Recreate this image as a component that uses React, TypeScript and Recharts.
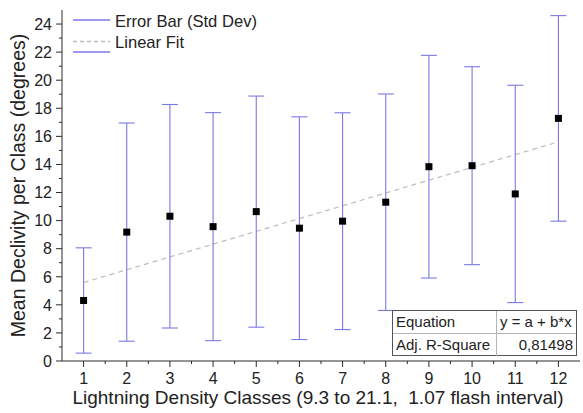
import React from 'react';
import { ComposedChart, Scatter, Line, XAxis, YAxis, ErrorBar, Label } from 'recharts';

// ---- data ----
const classes = [1, 2, 3, 4, 5, 6, 7, 8, 9, 10, 11, 12];
const meanDeclivity = [4.31, 9.18, 10.31, 9.57, 10.64, 9.46, 9.96, 11.31, 13.84, 13.91, 11.9, 17.28];
const stdDev = [3.75, 7.77, 7.96, 8.12, 8.23, 7.93, 7.72, 7.71, 7.93, 7.05, 7.74, 7.32];
const fitX = [1, 12];
const fitY = [5.59, 15.61];
const xMajorTicks = [1, 2, 3, 4, 5, 6, 7, 8, 9, 10, 11, 12];
const xMinorTicks = [1.5, 2.5, 3.5, 4.5, 5.5, 6.5, 7.5, 8.5, 9.5, 10.5, 11.5];
const yMajorTicks = [0, 2, 4, 6, 8, 10, 12, 14, 16, 18, 20, 22, 24];
const yMinorTicks = [1, 3, 5, 7, 9, 11, 13, 15, 17, 19, 21, 23];
const tableRows = [
  ['Equation', 'y = a + b*x'],
  ['Adj. R-Square', '0,81498'],
];
const legendLabels = ['Error Bar (Std Dev)', 'Linear Fit'];

const points = classes.map((c, i) => ({ x: c, y: meanDeclivity[i], err: stdDev[i] }));
const fitData = fitX.map((x, i) => ({ x, fit: fitY[i] }));

const FONT = '"Liberation Sans", Arial, sans-serif';
const AXIS = '#2a2a2a';
const ERR = '#7a78e4';
const FIT = '#bcbcbc';

const isMajorX = (v: number) => xMajorTicks.includes(v);
const isMajorY = (v: number) => yMajorTicks.includes(v);

const YTick = (props: any) => {
  const { x, y, payload } = props;
  const axisX = x + 9;
  const v = payload.value;
  const major = isMajorY(v);
  return (
    <g>
      <line x1={axisX} x2={axisX - (major ? 6 : 3)} y1={y} y2={y} stroke={AXIS} />
      {major && (
        <text x={axisX - 10} y={y} dy="0.36em" textAnchor="end" fontSize={16} fill="#222" fontFamily={FONT}>
          {v}
        </text>
      )}
    </g>
  );
};

const XTick = (props: any) => {
  const { x, y, payload } = props;
  const axisY = y - 9;
  const v = payload.value;
  const major = isMajorX(v);
  return (
    <g>
      <line x1={x} x2={x} y1={axisY} y2={axisY + (major ? 6 : 3)} stroke={AXIS} />
      {major && (
        <text x={x} y={axisY + 23} textAnchor="middle" fontSize={16} fill="#222" fontFamily={FONT}>
          {v}
        </text>
      )}
    </g>
  );
};

const YTitle = (props: any) => {
  const { viewBox } = props;
  const cx = viewBox.x + viewBox.width - 44;
  const cy = viewBox.y + viewBox.height / 2;
  return (
    <text
      x={cx}
      y={cy}
      transform={`rotate(-90 ${cx} ${cy})`}
      textAnchor="middle"
      dominantBaseline="central"
      fontSize={19.5}
      fill="#222"
      fontFamily={FONT}
    >
      Mean Declivity per Class (degrees)
    </text>
  );
};

const XTitle = (props: any) => {
  const { viewBox } = props;
  const cx = viewBox.x + viewBox.width / 2 - 3;
  const by = viewBox.y + 43;
  return (
    <text x={cx} y={by} textAnchor="middle" fontSize={19} fill="#222" fontFamily={FONT} style={{ whiteSpace: 'pre' }}>
      {'Lightning Density Classes (9.3 to 21.1,  1.07 flash interval)'}
    </text>
  );
};

const Square = (props: any) => {
  const { cx, cy } = props;
  return <rect x={cx - 3.5} y={cy - 3.5} width={7} height={7} fill="#000" />;
};

export default function App() {
  return (
    <div style={{ position: 'absolute', left: 0, top: 0, width: 583, height: 413, background: '#fff', fontFamily: FONT }}>
      <ComposedChart width={583} height={413} margin={{ top: 10, right: 3, bottom: 4, left: 20 }}>
        <XAxis
          xAxisId="main"
          dataKey="x"
          type="number"
          domain={[0.5, 12.5]}
          ticks={[...xMajorTicks, ...xMinorTicks].sort((a, b) => a - b)}
          allowDataOverflow
          height={48}
          tickSize={6}
          tickMargin={3}
          tickLine={false}
          tick={<XTick />}
          axisLine={{ stroke: AXIS }}
          interval={0}
        >
          <Label content={<XTitle />} />
        </XAxis>
        <XAxis
          xAxisId="top"
          orientation="top"
          type="number"
          domain={[0.5, 12.5]}
          height={0}
          tick={false}
          tickLine={false}
          axisLine={{ stroke: AXIS }}
        />
        <YAxis
          yAxisId="main"
          type="number"
          domain={[0, 25]}
          ticks={[...yMajorTicks, ...yMinorTicks].sort((a, b) => a - b)}
          allowDataOverflow
          width={42}
          tickSize={6}
          tickMargin={3}
          tickLine={false}
          tick={<YTick />}
          axisLine={{ stroke: AXIS }}
          interval={0}
        >
          <Label content={<YTitle />} />
        </YAxis>
        <YAxis
          yAxisId="right"
          orientation="right"
          type="number"
          domain={[0, 25]}
          width={0}
          tick={false}
          tickLine={false}
          axisLine={{ stroke: AXIS }}
        />
        <Line
          xAxisId="main"
          yAxisId="main"
          data={fitData}
          dataKey="fit"
          type="linear"
          stroke={FIT}
          strokeWidth={1.2}
          strokeDasharray="5 4"
          dot={false}
          activeDot={false}
          isAnimationActive={false}
        />
        <Scatter
          xAxisId="main"
          yAxisId="main"
          data={points}
          dataKey="y"
          shape={<Square />}
          isAnimationActive={false}
        >
          <ErrorBar dataKey="err" direction="y" width={8} stroke={ERR} strokeWidth={1.1} isAnimationActive={false} />
        </Scatter>
      </ComposedChart>

      {/* legend */}
      <svg style={{ position: 'absolute', left: 0, top: 0 }} width={583} height={70}>
        <line x1={73} x2={110} y1={20} y2={20} stroke={ERR} strokeWidth={1.3} />
        <text x={115} y={26.5} fontSize={16.6} fill="#222" fontFamily={FONT}>{legendLabels[0]}</text>
        <line x1={73} x2={110} y1={41.5} y2={41.5} stroke={FIT} strokeWidth={1.3} strokeDasharray="4 3" />
        <text x={115} y={47.5} fontSize={16.6} fill="#222" fontFamily={FONT}>{legendLabels[1]}</text>
        <line x1={73} x2={110} y1={52} y2={52} stroke={ERR} strokeWidth={1.3} />
      </svg>

      {/* fit result table */}
      <div
        style={{
          position: 'absolute',
          left: 392,
          top: 310,
          width: 185,
          height: 46,
          boxSizing: 'border-box',
          border: '1px solid #555',
          background: '#fff',
          fontSize: 15,
          color: '#222',
        }}
      >
        {tableRows.map((row, i) => (
          <div
            key={i}
            style={{
              display: 'flex',
              height: 22,
              borderTop: i > 0 ? '1px solid #b5b5b5' : 'none',
              lineHeight: '22px',
            }}
          >
            <div style={{ width: 104, paddingLeft: 3, boxSizing: 'border-box', borderRight: '1px solid #b5b5b5' }}>
              {row[0]}
            </div>
            <div
              style={{
                flex: 1,
                paddingLeft: i === 0 ? 3 : 0,
                paddingRight: 3,
                textAlign: i === 0 ? 'left' : 'right',
                whiteSpace: 'nowrap',
              }}
            >
              {row[1]}
            </div>
          </div>
        ))}
      </div>
    </div>
  );
}
